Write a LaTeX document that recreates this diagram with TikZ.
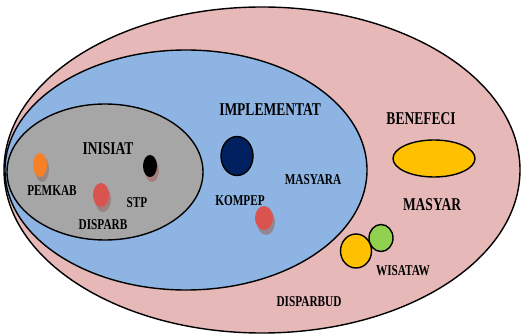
\documentclass[tikz,border=0pt]{standalone}
\usepackage{fontspec}
\newfontfamily\lblfont[FakeStretch=0.75]{Liberation Serif}
\definecolor{rosa}{HTML}{E6B8B7}
\definecolor{azul}{HTML}{8DB4E2}
\definecolor{gris}{HTML}{A6A6A6}
\definecolor{marino}{HTML}{002060}
\definecolor{oro}{HTML}{FFC000}
\definecolor{verde}{HTML}{92D050}
\definecolor{naranja}{HTML}{F58025}
\definecolor{rojo}{HTML}{D9534F}
\tikzset{
	grande/.style={font=\lblfont\bfseries\fontsize{18}{18}\selectfont},
	chico/.style={font=\lblfont\bfseries\fontsize{15}{15}\selectfont},
	borde/.style={draw=black, line width=1.4pt},
	mancha/.style={draw=none}
}
\begin{document}
\begin{tikzpicture}[x=1pt, y=-1pt]
		\useasboundingbox (0,0) rectangle (521,336);
		\filldraw[borde, fill=rosa] (262,170) ellipse (258 and 163);
		\filldraw[borde, fill=azul] (186,170) ellipse (181 and 120);
		\filldraw[borde, fill=gris] (105,172) ellipse (98 and 68);
		
		% manchas del grupo gris
		\fill[gray!80!rojo, opacity=.7] (42,169) ellipse (7 and 13);
		\fill[naranja] (40,165) ellipse (7 and 12);
		\fill[gray!70!rojo, opacity=.7] (103,199) ellipse (8 and 13);
		\fill[rojo] (101,195) ellipse (8 and 12);
		\fill[gray!60!rojo, opacity=.7] (152,170) ellipse (7 and 12);
		\fill[black] (150,166) ellipse (7 and 11);
		
		\node[grande] (inisiat) at (108,149) {INISIAT};
		\node[chico] (pemkab) at (52,191) {PEMKAB};
		\node[chico] (stp) at (137,203) {STP};
		\node[chico] (disparb) at (103,225) {DISPARB};
		
		% grupo azul
		\filldraw[borde, fill=marino] (237,156) ellipse (16 and 19.5);
		\fill[gray!70!rojo, opacity=.7] (266,222) ellipse (9 and 13);
		\fill[rojo] (264,218) ellipse (9 and 12);
		\node[grande] (implementat) at (270,110) {IMPLEMENTAT};
		\node[chico] (masyara) at (313,180) {MASYARA};
		\node[chico] (komper) at (240,201) {KOMPEP};
		
		% grupo rosa
		\filldraw[borde, fill=oro] (434,158.5) ellipse (41 and 18.5);
		\filldraw[borde, fill=verde] (381,238) ellipse (12 and 13.5);
		\filldraw[borde, fill=oro] (356,251) ellipse (15.5 and 17);
		\node[grande] (benefeci) at (421,119) {BENEFECI};
		\node[grande] (masyar) at (432,205) {MASYAR};
		\node[chico] (wisataw) at (403,271) {WISATAW};
		\node[chico] (disparbud) at (309,302) {DISPARBUD};
	\end{tikzpicture}
\end{document}
